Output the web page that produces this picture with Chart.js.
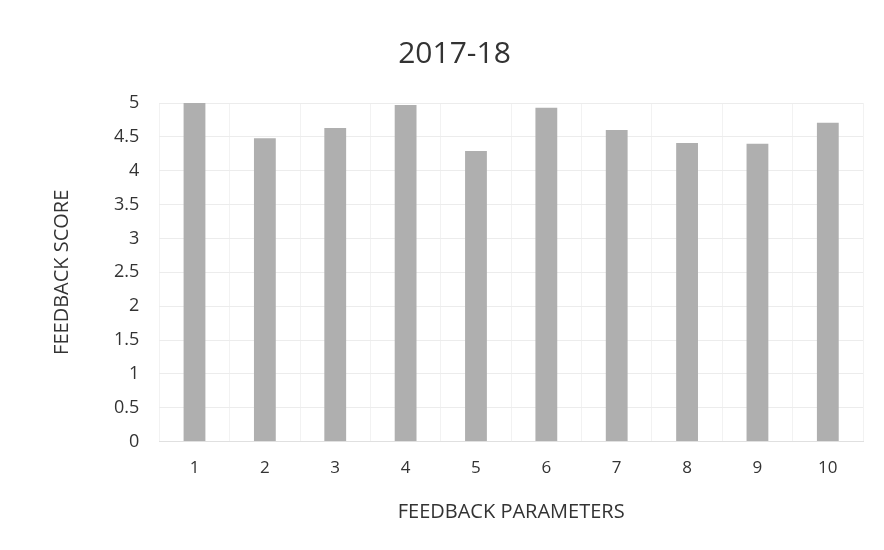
<!DOCTYPE html>
<html>
<head>
<meta charset="utf-8">
<script src="https://cdn.jsdelivr.net/npm/chart.js@4/dist/chart.umd.min.js"></script>
<style>
html,body{margin:0;padding:0;background:#fff;}
#wrap{width:884px;height:550px;}
</style>
</head>
<body>
<div id="wrap"><canvas id="c" width="884" height="550"></canvas></div>
<script>
const categories = ["1","2","3","4","5","6","7","8","9","10"];
const scores = [5.0, 4.48, 4.63, 4.97, 4.29, 4.93, 4.6, 4.41, 4.4, 4.71];
const chartTitle = "2017-18";
const xTitle = "FEEDBACK PARAMETERS";
const yTitle = "FEEDBACK SCORE";

const font = "'Open Sans', 'Liberation Sans', sans-serif";
new Chart(document.getElementById('c'), {
  type: 'bar',
  data: {
    labels: categories,
    datasets: [{
      data: scores,
      backgroundColor: '#afafaf',
      borderWidth: 0,
      categoryPercentage: 0.62,
      barPercentage: 0.5
    }]
  },
  options: {
    responsive: false,
    animation: false,
    layout: { padding: { left: 46, right: 21, top: 30, bottom: 26 } },
    plugins: {
      legend: { display: false },
      tooltip: { enabled: false },
      title: {
        display: true,
        text: chartTitle,
        color: '#333',
        font: { family: font, size: 30, weight: 'normal' },
        padding: { top: 6, bottom: 31 }
      }
    },
    scales: {
      x: {
        grid: { display: true, color: '#f2f2f2', drawTicks: false },
        border: { display: true, color: '#e0e0e0' },
        ticks: { color: '#333', font: { family: font, size: 17 }, padding: 16 },
        title: { display: true, text: xTitle, color: '#333', font: { family: font, size: 20 }, padding: { top: 6, bottom: 0 } }
      },
      y: {
        min: 0, max: 5,
        grid: { color: '#ececec', drawTicks: false },
        border: { display: false },
        ticks: { stepSize: 0.5, color: '#333', font: { family: font, size: 18 }, padding: 20,
          callback: v => String(v) },
        title: { display: true, text: yTitle, color: '#333', font: { family: font, size: 20 }, padding: { top: 4, bottom: 20 } }
      }
    }
  }
});
</script>
</body>
</html>
